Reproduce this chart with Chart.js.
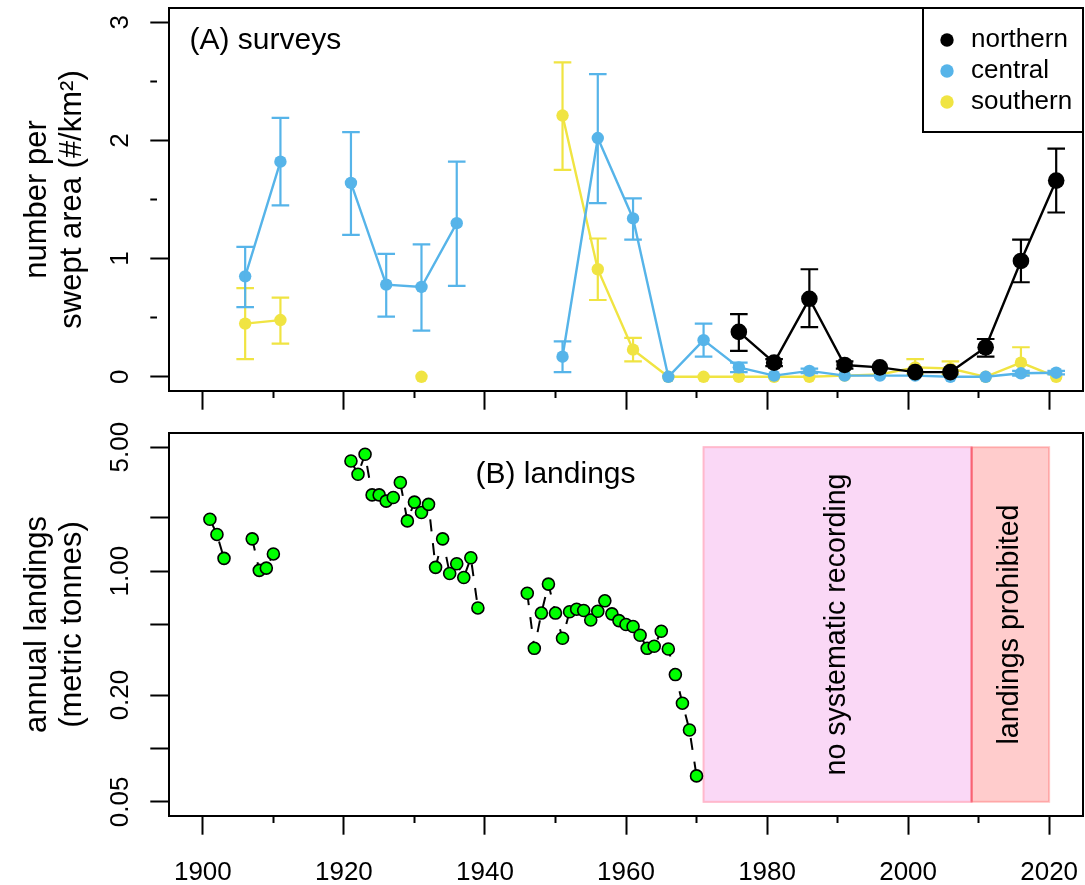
<!DOCTYPE html>
<html>
<head>
<meta charset="utf-8">
<script src="https://cdn.jsdelivr.net/npm/chart.js@4.4.1/dist/chart.umd.min.js"></script>
<style>
  body { margin: 0; background: #fff; }
  #wrap { position: relative; width: 1085px; height: 885px; }
  canvas { position: absolute; left: 0; }
  #surveys { top: 0; }
  #landings { top: 420px; }
</style>
</head>
<body>
<div id="wrap">
  <canvas id="surveys" width="1085" height="420"></canvas>
  <canvas id="landings" width="1085" height="465"></canvas>
</div>
<script>
// ---- data ----
const surveyYears = [1906, 1911, 1916, 1921, 1926, 1931, 1936, 1941, 1946, 1951, 1956, 1961,
                     1966, 1971, 1976, 1981, 1986, 1991, 1996, 2001, 2006, 2011, 2016, 2021];

const northern   = [null, null, null, null, null, null, null, null, null, null, null, null,
                    null, null, 0.38, 0.12, 0.66, 0.10, 0.08, 0.04, 0.04, 0.25, 0.98, 1.66];
const northernLo = [null, null, null, null, null, null, null, null, null, null, null, null,
                    null, null, 0.22, 0.09, 0.42, 0.07, null, null, null, 0.17, 0.80, 1.39];
const northernHi = [null, null, null, null, null, null, null, null, null, null, null, null,
                    null, null, 0.53, 0.15, 0.91, 0.13, null, null, null, 0.32, 1.16, 1.93];

const central   = [0.85, 1.82, null, 1.64, 0.78, 0.76, 1.30, null, null, 0.17, 2.02, 1.34,
                   0, 0.31, 0.08, 0.01, 0.05, 0.01, 0.01, 0.01, 0, 0, 0.03, 0.035];
const centralLo = [0.59, 1.45, null, 1.20, 0.51, 0.39, 0.77, null, null, 0.04, 1.47, 1.16,
                   null, 0.17, 0.04, null, 0.03, null, null, null, null, null, 0.01, 0.02];
const centralHi = [1.10, 2.19, null, 2.07, 1.04, 1.12, 1.82, null, null, 0.30, 2.56, 1.51,
                   null, 0.45, 0.12, null, 0.07, null, null, null, null, null, 0.05, 0.05];

const southern   = [0.45, 0.48, null, null, null, 0, null, null, null, 2.21, 0.91, 0.23,
                    0, 0, 0, 0, 0, 0.01, 0.02, 0.08, 0.07, 0, 0.12, 0];
const southernLo = [0.15, 0.28, null, null, null, null, null, null, null, 1.75, 0.65, 0.13,
                    null, null, null, null, null, null, null, 0.02, 0.02, null, 0.02, null];
const southernHi = [0.75, 0.67, null, null, null, null, null, null, null, 2.66, 1.17, 0.33,
                    null, null, null, null, null, null, null, 0.15, 0.13, null, 0.25, null];

const landingYears = [1901, 1902, 1903, 1904, 1905, 1906, 1907, 1908, 1909, 1910,
                      1911, 1912, 1913, 1914, 1915, 1916, 1917, 1918, 1919, 1920,
                      1921, 1922, 1923, 1924, 1925, 1926, 1927, 1928, 1929, 1930,
                      1931, 1932, 1933, 1934, 1935, 1936, 1937, 1938, 1939, 1940,
                      1941, 1942, 1943, 1944, 1945, 1946, 1947, 1948, 1949, 1950,
                      1951, 1952, 1953, 1954, 1955, 1956, 1957, 1958, 1959, 1960,
                      1961, 1962, 1963, 1964, 1965, 1966, 1967, 1968, 1969, 1970];
const landings = [1.96, 1.61, 1.18, null, null, null, 1.52, 1.01, 1.04, 1.25,
                  null, null, null, null, null, null, null, null, null, null,
                  4.18, 3.52, 4.56, 2.69, 2.69, 2.48, 2.60, 3.16, 1.92, 2.45,
                  2.14, 2.38, 1.05, 1.52, 0.97, 1.10, 0.92, 1.19, 0.62, null,
                  null, null, null, null, null, 0.75, 0.367, 0.58, 0.845, 0.58,
                  0.418, 0.59, 0.61, 0.60, 0.53, 0.594, 0.68, 0.574, 0.526, 0.50,
                  0.487, 0.435, 0.367, 0.377, 0.458, 0.364, 0.261, 0.18, 0.127, 0.07];

const yearTicks = [1900, 1910, 1920, 1930, 1940, 1950, 1960, 1970, 1980, 1990, 2000, 2010, 2020];
const yearTickLabels = ['1900', '', '1920', '', '1940', '', '1960', '', '1980', '', '2000', '', '2020'];
const surveyTicks = [0, 0.5, 1, 1.5, 2, 2.5, 3];
const surveyTickLabels = ['0', '', '1', '', '2', '', '3'];
const landingTicks = [0.05, 0.1, 0.2, 0.5, 1, 2, 5];
const landingTickLabels = ['0.05', '', '0.20', '', '1.00', '', '5.00'];

const noRecordSpan = [1971, 2009];
const prohibitedSpan = [2009, 2020];

// ---- shared style ----
const FONT = '"Liberation Sans", Arial, sans-serif';
Chart.defaults.font.family = FONT;
Chart.defaults.color = '#000';

const BLUE = '#56B4E9';
const YELLOW = '#F0E442';

// axes in the original have no label overhang padding
function noOverhang(s) {
  s.paddingTop = 0;
  s.paddingBottom = 0;
  s.paddingLeft = 0;
  s.paddingRight = 0;
}

const frame = {
  id: 'frame',
  afterDatasetsDraw(chart) {
    const { ctx, chartArea: a } = chart;
    ctx.save();
    ctx.lineWidth = 2;
    ctx.strokeStyle = '#000';
    ctx.strokeRect(a.left, a.top, a.right - a.left, a.bottom - a.top);
    ctx.restore();
  }
};

const errorBars = {
  id: 'errorBars',
  afterDatasetDraw(chart, args) {
    const ds = chart.data.datasets[args.index];
    if (!ds.lo) return;
    const { ctx, scales: { x, y } } = chart;
    ctx.save();
    ctx.strokeStyle = ds.borderColor;
    ctx.lineWidth = 2.2;
    ds.lo.forEach((lo, i) => {
      const hi = ds.hi[i];
      if (lo == null || hi == null) return;
      const px = x.getPixelForValue(surveyYears[i]);
      const p1 = y.getPixelForValue(lo);
      const p2 = y.getPixelForValue(hi);
      ctx.beginPath();
      ctx.moveTo(px, p1); ctx.lineTo(px, p2);
      ctx.moveTo(px - 8.8, p1); ctx.lineTo(px + 8.8, p1);
      ctx.moveTo(px - 8.8, p2); ctx.lineTo(px + 8.8, p2);
      ctx.stroke();
    });
    ctx.restore();
  }
};

const surveyNotes = {
  id: 'surveyNotes',
  afterDraw(chart) {
    const { ctx, chartArea: a, scales: { x, y } } = chart;
    ctx.save();
    ctx.font = '30px ' + FONT;
    ctx.fillStyle = '#000';
    ctx.textBaseline = 'middle';
    ctx.fillText('(A) surveys', x.getPixelForValue(1898.1), y.getPixelForValue(2.845));

    // legend box in the top right corner
    const w = 160, h = 124;
    const left = a.right - w, top = a.top;
    ctx.fillStyle = '#fff';
    ctx.fillRect(left, top, w, h);
    ctx.lineWidth = 2;
    ctx.strokeStyle = '#000';
    ctx.strokeRect(left, top, w, h);
    ctx.font = '26px ' + FONT;
    chart.data.datasets.forEach((ds, i) => {
      const yy = top + 32 + i * 31;
      ctx.fillStyle = ds.pointBackgroundColor;
      ctx.beginPath();
      ctx.arc(left + 24, yy, 6.7, 0, Math.PI * 2);
      ctx.fill();
      ctx.fillStyle = '#000';
      ctx.fillText(ds.label, left + 48, yy);
    });
    ctx.restore();
  }
};

const landingNotes = {
  id: 'landingNotes',
  beforeDatasetsDraw(chart) {
    const { ctx, scales: { x, y } } = chart;
    const top = y.getPixelForValue(5), bottom = y.getPixelForValue(0.05);
    ctx.save();
    const x1 = x.getPixelForValue(noRecordSpan[0]), x2 = x.getPixelForValue(noRecordSpan[1]);
    ctx.fillStyle = '#FAD8F6';
    ctx.fillRect(x1, top, x2 - x1, bottom - top);
    ctx.lineWidth = 2;
    ctx.strokeStyle = '#FFB8CC';
    ctx.strokeRect(x1, top, x2 - x1, bottom - top);

    const x3 = x.getPixelForValue(prohibitedSpan[0]), x4 = x.getPixelForValue(prohibitedSpan[1]);
    ctx.fillStyle = 'rgba(255,0,0,0.2)';
    ctx.fillRect(x3, top, x4 - x3, bottom - top);
    ctx.strokeStyle = 'rgba(255,0,0,0.22)';
    ctx.strokeRect(x3, top, x4 - x3, bottom - top);
    ctx.strokeStyle = 'rgba(240,60,80,0.45)';
    ctx.beginPath(); ctx.moveTo(x3, top); ctx.lineTo(x3, bottom); ctx.stroke();

    ctx.fillStyle = '#000';
    ctx.font = '28.6px ' + FONT;
    ctx.textAlign = 'center';
    ctx.textBaseline = 'middle';
    const midY = y.getPixelForValue(0.5);
    [[noRecordSpan, 'no systematic recording'], [prohibitedSpan, 'landings prohibited']].forEach(([span, txt]) => {
      ctx.save();
      ctx.translate(x.getPixelForValue((span[0] + span[1]) / 2), midY);
      ctx.rotate(-Math.PI / 2);
      ctx.fillText(txt, 0, 0);
      ctx.restore();
    });
    ctx.restore();
  },
  afterDraw(chart) {
    const { ctx, scales: { x, y } } = chart;
    ctx.save();
    ctx.font = '30px ' + FONT;
    ctx.fillStyle = '#000';
    ctx.textAlign = 'center';
    ctx.textBaseline = 'middle';
    ctx.fillText('(B) landings', x.getPixelForValue(1950), y.getPixelForValue(3.5));
    ctx.restore();
  }
};

function pts(xs, ys) {
  return xs.map((v, i) => ({ x: v, y: ys[i] }));
}

function xAxis(height, showLabels) {
  return {
    type: 'linear',
    min: 1895.2,
    max: 2024.8,
    afterBuildTicks: s => { s.ticks = yearTicks.map(v => ({ value: v })); },
    afterFit: s => { s.height = height; noOverhang(s); },
    border: { display: false },
    grid: {
      drawOnChartArea: false,
      tickLength: 18.7,
      tickWidth: 2,
      tickColor: '#000',
      tickBorderDash: c => (c.tick && c.tick.value % 20 !== 0) ? [7, 60] : []
    },
    ticks: {
      display: showLabels,
      autoSkip: false,
      maxRotation: 0,
      padding: 23,
      font: { size: 26 },
      callback: (v, i) => yearTickLabels[i]
    }
  };
}

const surveySet = (label, color, vals, lo, hi, r) => ({
  label: label,
  data: pts(surveyYears, vals),
  lo: lo,
  hi: hi,
  borderColor: color,
  backgroundColor: color,
  pointBackgroundColor: color,
  pointBorderColor: color,
  pointBorderWidth: 0,
  pointRadius: r,
  borderWidth: 2.4,
  spanGaps: false,
  tension: 0
});

new Chart(document.getElementById('surveys'), {
  type: 'line',
  data: {
    datasets: [
      surveySet('northern', '#000000', northern, northernLo, northernHi, 8.3),
      surveySet('central', BLUE, central, centralLo, centralHi, 6.2),
      surveySet('southern', YELLOW, southern, southernLo, southernHi, 6.2)
    ]
  },
  options: {
    responsive: false,
    animation: false,
    events: [],
    layout: { autoPadding: false, padding: { top: 8, right: 2, left: 0, bottom: 0 } },
    plugins: { legend: { display: false }, tooltip: { enabled: false } },
    scales: {
      x: xAxis(29, false),
      y: {
        type: 'linear',
        min: -0.12,
        max: 3.12,
        afterBuildTicks: s => { s.ticks = surveyTicks.map(v => ({ value: v })); },
        afterFit: s => { s.width = 169; noOverhang(s); },
        border: { display: false },
        grid: {
          drawOnChartArea: false,
          tickLength: 18.7,
          tickWidth: 2,
          tickColor: '#000',
          tickBorderDash: c => (c.tick && !Number.isInteger(c.tick.value)) ? [6.7, 60] : []
        },
        ticks: {
          autoSkip: false,
          minRotation: 90,
          maxRotation: 90,
          crossAlign: 'center',
          padding: 22,
          font: { size: 26 },
          callback: (v, i) => surveyTickLabels[i]
        },
        title: {
          display: true,
          text: ['number per', 'swept area (#/km²)'],
          font: { size: 31, lineHeight: 1.13 },
          padding: { top: 19.5, bottom: 0 }
        }
      }
    }
  },
  plugins: [errorBars, frame, surveyNotes]
});

new Chart(document.getElementById('landings'), {
  type: 'line',
  data: {
    datasets: [{
      label: 'landings',
      data: pts(landingYears, landings),
      borderColor: '#000',
      borderWidth: 2,
      borderDash: [12, 12],
      pointRadius: 6,
      pointBackgroundColor: '#00FF00',
      pointBorderColor: '#000',
      pointBorderWidth: 1.6,
      spanGaps: false,
      tension: 0
    }]
  },
  options: {
    responsive: false,
    animation: false,
    events: [],
    layout: { autoPadding: false, padding: { top: 13, right: 2, left: 0, bottom: 0 } },
    plugins: { legend: { display: false }, tooltip: { enabled: false } },
    scales: {
      x: xAxis(69, true),
      y: {
        type: 'logarithmic',
        min: 0.0416,
        max: 6.01,
        afterBuildTicks: s => { s.ticks = landingTicks.map(v => ({ value: v })); },
        afterFit: s => { s.width = 169; noOverhang(s); },
        border: { display: false },
        grid: {
          drawOnChartArea: false,
          tickLength: 18.7,
          tickWidth: 2,
          tickColor: '#000'
        },
        ticks: {
          autoSkip: false,
          minRotation: 90,
          maxRotation: 90,
          crossAlign: 'center',
          padding: 4,
          font: { size: 26 },
          callback: (v, i) => landingTickLabels[i]
        },
        title: {
          display: true,
          text: ['annual landings', '(metric tonnes)'],
          font: { size: 31, lineHeight: 1.13 },
          padding: { top: 19.5, bottom: 0 }
        }
      }
    }
  },
  plugins: [landingNotes, frame]
});
</script>
</body>
</html>
